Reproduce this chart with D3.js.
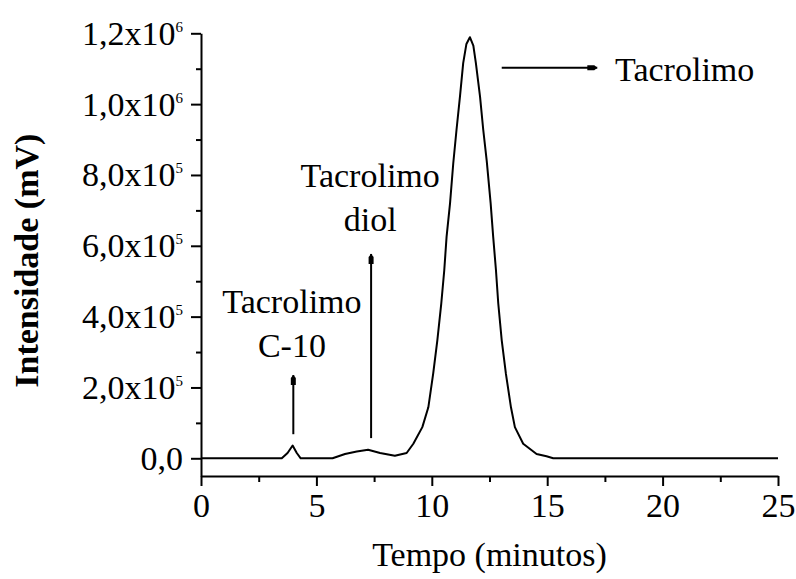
<!DOCTYPE html>
<html>
<head>
<meta charset="utf-8">
<script src="https://cdn.jsdelivr.net/npm/d3@7"></script>
<style>
  html, body { margin: 0; padding: 0; background: #fff; }
  svg { display: block; }
</style>
</head>
<body>
<svg id="chart" width="796" height="579"></svg>
<script>
// Chromatogram: retention time (min) vs detector intensity (mV)
const timeMin = [0, 3.5, 3.75, 3.97, 4.15, 4.32, 5.7, 6.24, 6.75, 7.24, 7.76, 8.4, 8.91, 9.2, 9.59, 9.85,
  10.06, 10.24, 10.41, 10.54, 10.64, 10.79, 10.93, 11.07, 11.22, 11.36, 11.5, 11.65, 11.8, 11.91, 12.09,
  12.23, 12.38, 12.55, 12.66, 12.78, 12.88, 13.03, 13.21, 13.43, 13.6, 13.96, 14.54, 14.97, 15.26, 25];
const intensity = [0, 0, 15000, 36000, 15000, 0, 0, 12000, 19000, 24000, 15000, 7000, 15000, 41000, 88000, 144000,
  239000, 333000, 437000, 531000, 625000, 720000, 833000, 927000, 1021000, 1116000, 1170000, 1189000, 1165000, 1116000, 1021000,
  927000, 840000, 720000, 625000, 531000, 437000, 333000, 239000, 144000, 88000, 41000, 12000, 5700, 0, 0];

// Axis ticks
const xMajorTicks = [0, 5, 10, 15, 20, 25];
const xMinorTicks = [2.5, 7.5, 12.5, 17.5, 22.5];
const yMajorTicks = [0, 200000, 400000, 600000, 800000, 1000000, 1200000];
const yMinorTicks = [100000, 300000, 500000, 700000, 900000, 1100000];
const yTickMantissa = ["0,0", "2,0x10", "4,0x10", "6,0x10", "8,0x10", "1,0x10", "1,2x10"];
const yTickExponent = ["", "5", "5", "5", "5", "6", "6"];

// Peak annotations: label lines, anchor (time, intensity) and arrows
const labelLines = [["Tacrolimo", "C-10"], ["Tacrolimo", "diol"], ["Tacrolimo"]];
const labelTime = [3.94, 7.33, 17.94];
const labelIntensity = [411000, 767000, 1065000];
const arrowFrom = [[4.0, 68000], [7.37, 57000], [13.03, 1103000]];
const arrowTo = [[4.0, 235000], [7.37, 577000], [17.17, 1103000]];

// Pick the first installed Times-like serif face
function pickSerif(candidates) {
  const ctx = document.createElement("canvas").getContext("2d");
  const probe = "Tacrolimo 0123456789 (mV)";
  for (const f of candidates) {
    for (const base of ["monospace", "sans-serif"]) {
      ctx.font = `40px ${base}`;
      const w0 = ctx.measureText(probe).width;
      ctx.font = `40px "${f}", ${base}`;
      if (Math.abs(ctx.measureText(probe).width - w0) > 0.5) return `"${f}"`;
    }
  }
  return "serif";
}
const SERIF = pickSerif(["Liberation Serif", "Tinos", "Times New Roman", "Nimbus Roman", "FreeSerif", "DejaVu Serif"]);
const FONT = 34;

const svg = d3.select("#chart");
const plotLeft = 201, plotRight = 778, plotTop = 33.3, plotBottom = 476;

const x = d3.scaleLinear().domain([0, 25]).range([plotLeft, plotRight]);
const y = d3.scaleLinear().domain([-50000, 1200000]).range([plotBottom, plotTop]);

function styleAxis(g) {
  g.attr("font-family", SERIF).attr("font-size", FONT);
  g.select(".domain").attr("stroke", "#000").attr("stroke-width", 2);
  g.selectAll("line").attr("stroke", "#000").attr("stroke-width", 2);
  g.selectAll("text").attr("fill", "#000");
}

// Minor ticks
svg.append("g").attr("transform", `translate(0,${plotBottom})`)
  .call(d3.axisBottom(x).tickValues(xMinorTicks).tickSize(6).tickFormat(""))
  .call(g => g.select(".domain").remove())
  .call(styleAxis);
svg.append("g").attr("transform", `translate(${plotLeft},0)`)
  .call(d3.axisLeft(y).tickValues(yMinorTicks).tickSize(5).tickFormat(""))
  .call(g => g.select(".domain").remove())
  .call(styleAxis);

// X axis
svg.append("g").attr("transform", `translate(0,${plotBottom})`)
  .call(d3.axisBottom(x).tickValues(xMajorTicks).tickSize(10).tickSizeOuter(0).tickPadding(7).tickFormat(d3.format("d")))
  .call(styleAxis);

// Y axis
const yAxis = svg.append("g").attr("transform", `translate(${plotLeft},0)`)
  .call(d3.axisLeft(y).tickValues(yMajorTicks).tickSize(10).tickSizeOuter(0).tickPadding(8)
    .tickFormat((d, i) => yTickMantissa[i]))
  .call(styleAxis);
yAxis.selectAll(".tick text").each(function (d, i) {
  if (yTickExponent[i]) {
    d3.select(this).append("tspan").attr("dy", -13).attr("font-size", 15).text(yTickExponent[i]);
  }
});

// Axis titles
svg.append("text")
  .attr("x", (plotLeft + plotRight) / 2).attr("y", 566)
  .attr("text-anchor", "middle").attr("font-family", SERIF).attr("font-size", FONT)
  .text("Tempo (minutos)");
svg.append("text")
  .attr("transform", `translate(38,${(plotTop + plotBottom) / 2 + 6}) rotate(-90)`)
  .attr("text-anchor", "middle").attr("font-family", SERIF).attr("font-size", FONT).attr("font-weight", "bold")
  .text("Intensidade (mV)");

// Chromatogram trace
const data = timeMin.map((t, i) => [t, intensity[i]]);
svg.append("path")
  .datum(data)
  .attr("fill", "none").attr("stroke", "#000").attr("stroke-width", 2).attr("stroke-linejoin", "round")
  .attr("d", d3.line().x(d => x(d[0])).y(d => y(d[1])));

// Arrows
const defs = svg.append("defs");
defs.append("marker")
  .attr("id", "head").attr("viewBox", "0 -3 10 6").attr("refX", 10).attr("refY", 0)
  .attr("markerUnits", "userSpaceOnUse").attr("markerWidth", 10).attr("markerHeight", 6)
  .attr("orient", "auto")
  .append("path").attr("d", "M0,-2.5L7,-2.5L10,0L7,2.5L0,2.5Z").attr("fill", "#000");

arrowFrom.forEach((a, i) => {
  const b = arrowTo[i];
  svg.append("line")
    .attr("x1", x(a[0])).attr("y1", y(a[1]))
    .attr("x2", x(b[0])).attr("y2", y(b[1]))
    .attr("stroke", "#000").attr("stroke-width", 2)
    .attr("marker-end", "url(#head)");
});

// Annotation labels
labelLines.forEach((lines, i) => {
  const t = svg.append("text")
    .attr("x", x(labelTime[i])).attr("y", y(labelIntensity[i]))
    .attr("font-family", SERIF).attr("font-size", FONT).attr("fill", "#000")
    .attr("text-anchor", lines.length > 1 ? "middle" : "start");
  lines.forEach((s, j) => {
    t.append("tspan").attr("x", x(labelTime[i])).attr("dy", j === 0 ? 0 : 44).text(s);
  });
});
</script>
</body>
</html>
